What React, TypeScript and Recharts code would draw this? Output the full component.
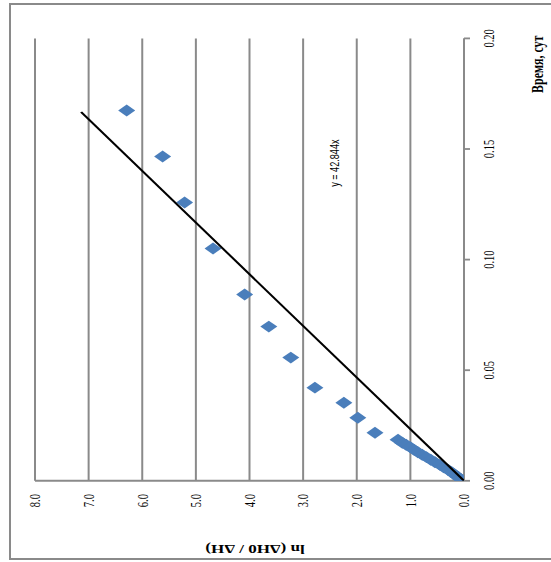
import { ScatterChart, Scatter, XAxis, YAxis, CartesianGrid } from "recharts";

// measured points: time (days) vs ln(dH0/dH)
const timeDays = [
  0.1674, 0.1466, 0.1258, 0.105, 0.0842, 0.0697, 0.0557, 0.0421, 0.0353, 0.0285, 0.0217, 0.0186,
  0.0172, 0.0163, 0.0152, 0.014, 0.0129, 0.0118, 0.0107, 0.0095, 0.0084, 0.0072, 0.0061, 0.005,
  0.0039, 0.0027, 0.0018, 0.0009, 0,
];
const lnRatio = [
  6.29, 5.62, 5.21, 4.68, 4.09, 3.64, 3.23, 2.78, 2.24, 1.98, 1.66, 1.23,
  1.15, 1.08, 1.0, 0.93, 0.86, 0.78, 0.7, 0.62, 0.54, 0.45, 0.38, 0.3,
  0.23, 0.17, 0.12, 0.07, 0,
];

// trendline y = 42.844x, end points
const trendTime = [0, 0.1667];
const trendLn = [0, 7.14];

const timeTicks = [0, 0.05, 0.1, 0.15, 0.2];
const lnTicks = [0, 1, 2, 3, 4, 5, 6, 7, 8];

const points = timeDays.map((t, i) => ({ t, v: lnRatio[i] }));
const trend = trendTime.map((t, i) => ({ t, v: trendLn[i] }));

const GRID = "#8a8a8a";
const SERIF = "'Liberation Serif', 'Times New Roman', serif";

// the chart is drawn upright, squeezed along the time axis (the source
// picture is stretched), then turned a quarter to the left
const K = 0.7;
const W = 803; // upright width before squeeze -> 562 on screen
const H = 600;

const Diamond = (props: any) => {
  const { cx, cy } = props;
  if (cx == null || cy == null) return <g />;
  const r = 8.5;
  return (
    <polygon
      points={`${cx - r},${cy} ${cx},${cy - r} ${cx + r},${cy} ${cx},${cy + r}`}
      fill="#4a7ebb"
    />
  );
};

const App = () => {
  return (
    <div
      style={{
        position: "fixed",
        left: 0,
        top: 0,
        width: 551,
        height: 562,
        overflow: "hidden",
        background: "#fff",
      }}
    >
      <div
        style={{
          position: "absolute",
          left: 9,
          top: 3,
          width: 600,
          height: 557,
          border: `2px solid ${GRID}`,
          boxSizing: "border-box",
        }}
      />
      <div
        style={{
          position: "absolute",
          left: 0,
          top: 0,
          width: W,
          height: H,
          transformOrigin: "0 0",
          transform: `translateY(562px) rotate(-90deg) scaleX(${K})`,
        }}
      >
        <ScatterChart width={W} height={H} margin={{ top: 35, right: 55, left: 0, bottom: 0 }}>
          <CartesianGrid vertical={false} stroke={GRID} strokeWidth={2} />
          <XAxis
            type="number"
            dataKey="t"
            domain={[0, 0.2]}
            ticks={timeTicks}
            tickFormatter={(v: number) => v.toFixed(2)}
            height={136}
            axisLine={{ stroke: GRID, strokeWidth: 2 }}
            tickLine={{ stroke: GRID, strokeWidth: 2.6 }}
            tickSize={6}
            tickMargin={13}
            tick={{ fill: "#000", fontSize: 15, fontFamily: SERIF }}
            allowDataOverflow
          />
          <YAxis
            type="number"
            dataKey="v"
            domain={[0, 8]}
            ticks={lnTicks}
            tickFormatter={(v: number) => v.toFixed(1)}
            width={116}
            axisLine={{ stroke: GRID, strokeWidth: 3 }}
            tickLine={false}
            tickSize={0}
            tickMargin={19}
            tick={{ fill: "#000", fontSize: 15, fontFamily: SERIF }}
            allowDataOverflow
          />
          <Scatter data={points} shape={Diamond} isAnimationActive={false} />
          <Scatter
            data={trend}
            line={{ stroke: "#000", strokeWidth: 2.4 }}
            shape={() => <g />}
            isAnimationActive={false}
          />
        </ScatterChart>
        <span
          style={{
            position: "absolute",
            left: 711,
            top: 538,
            transform: "translate(-50%, -50%)",
            whiteSpace: "nowrap",
            fontFamily: SERIF,
            fontWeight: "bold",
            fontSize: 17,
          }}
        >
          Время, сут
        </span>
        <span
          style={{
            position: "absolute",
            left: 20,
            top: 255,
            transform: "translate(-50%, -50%) rotate(-90deg)",
            whiteSpace: "nowrap",
            fontFamily: SERIF,
            fontWeight: "bold",
            fontSize: 17,
          }}
        >
          ln (ΔH0 / ΔH)
        </span>
        <span
          style={{
            position: "absolute",
            left: 536,
            top: 334,
            transform: "translateY(-50%)",
            whiteSpace: "nowrap",
            fontFamily: "'Liberation Sans', Arial, sans-serif",
            fontSize: 13,
          }}
        >
          y = 42.844x
        </span>
      </div>
    </div>
  );
};

export default App;
